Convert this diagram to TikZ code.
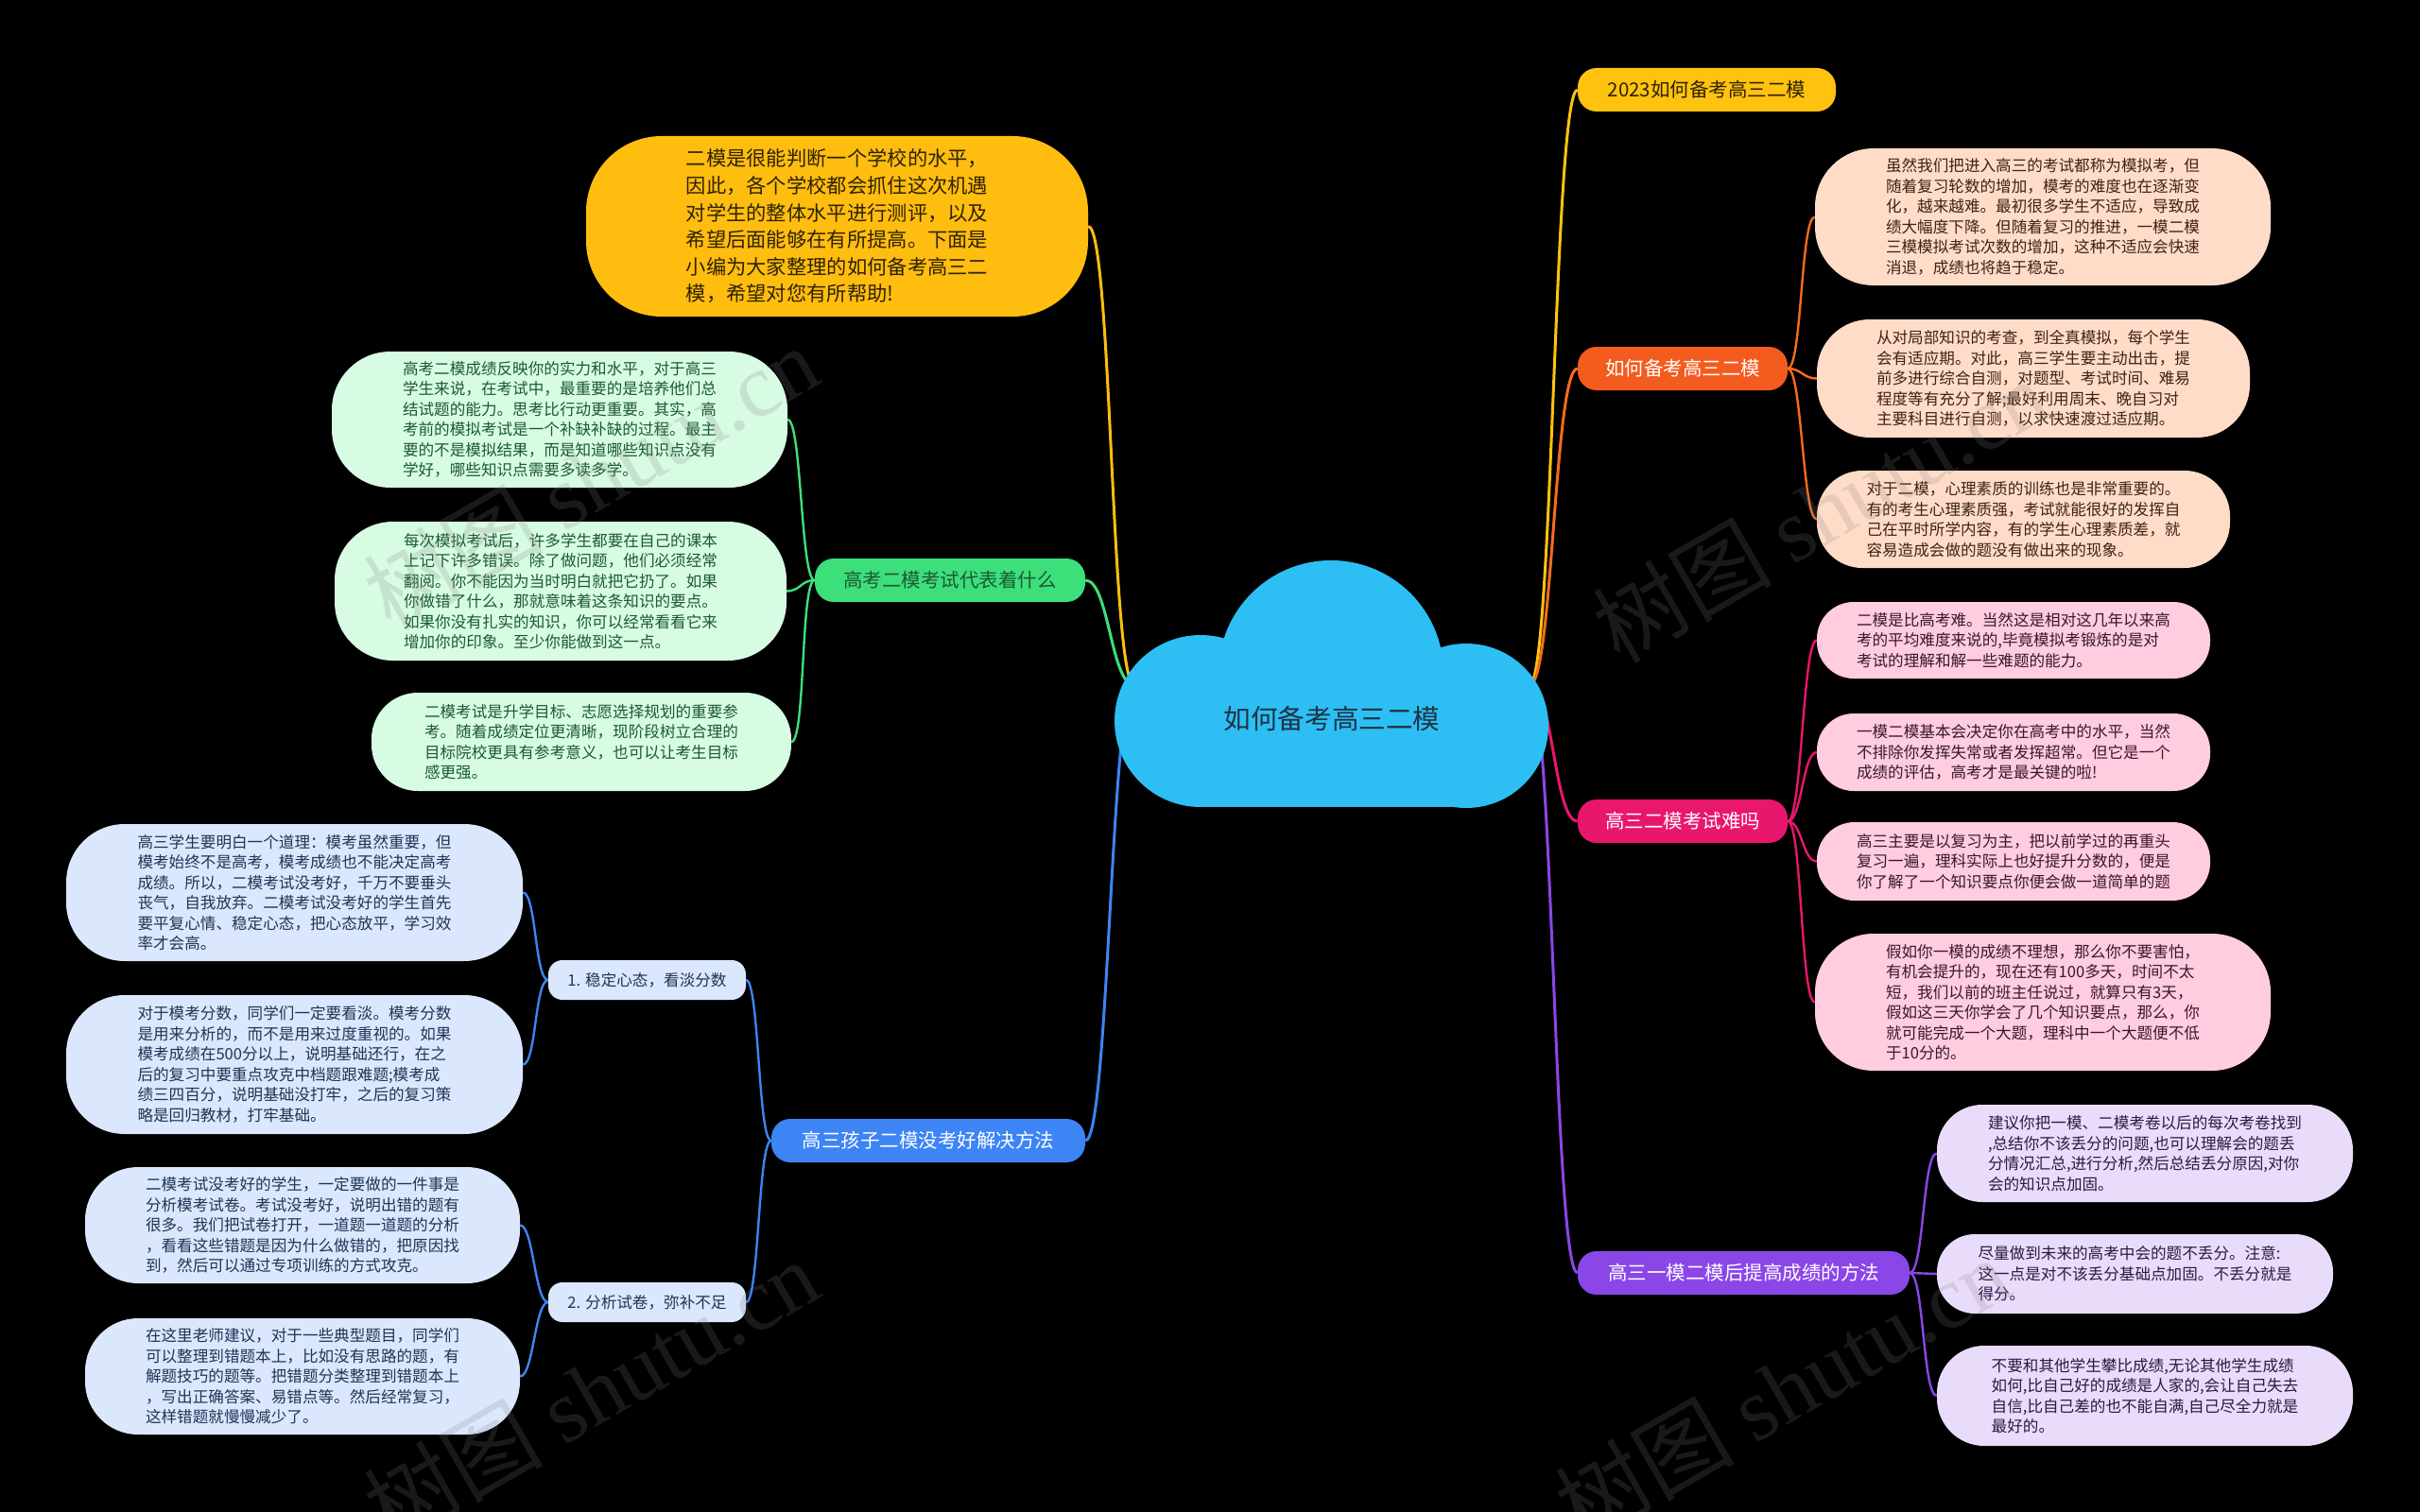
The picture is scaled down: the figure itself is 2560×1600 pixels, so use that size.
\documentclass[tikz,border=0pt]{standalone}
\usepackage{fontspec}
\setmainfont{Noto Sans CJK SC}
\newfontfamily\wmserif{Liberation Serif}
\pgfdeclarelayer{back}
\pgfdeclarelayer{lines}
\pgfsetlayers{back,lines,main}
\definecolor{cYel}{HTML}{FFC30F}
\definecolor{cYleaf}{HTML}{FFBD10}
\definecolor{cYelT}{HTML}{2E2200}
\definecolor{cOra}{HTML}{F45B1E}
\definecolor{cOraL}{HTML}{F76B1C}
\definecolor{cPeach}{HTML}{FFDCC8}
\definecolor{cPeachT}{HTML}{3B2316}
\definecolor{cPink}{HTML}{E9166D}
\definecolor{cPinkL}{HTML}{FFCCE0}
\definecolor{cPinkT}{HTML}{3A1828}
\definecolor{cPur}{HTML}{8B46E8}
\definecolor{cPurL}{HTML}{E8DCFA}
\definecolor{cPurT}{HTML}{2C1846}
\definecolor{cGrn}{HTML}{3DDF7A}
\definecolor{cGrnL}{HTML}{D8FBE3}
\definecolor{cGrnT}{HTML}{1C5A32}
\definecolor{cBlu}{HTML}{3D84F5}
\definecolor{cBluL}{HTML}{DBE7FC}
\definecolor{cBluT}{HTML}{1D3557}
\definecolor{cCloud}{HTML}{2DBFF3}
\definecolor{cCloudT}{HTML}{1E3347}
\begin{document}
\begin{tikzpicture}[x=1pt,y=-1pt,
  leaf/.style={align=left, inner sep=0pt, font=\fontsize{16.6}{21.5}\selectfont},
  leafY/.style={align=left, inner sep=0pt, fill=cYleaf, text=cYelT, font=\fontsize{21.3}{28.6}\selectfont},
  leafO/.style={leaf, fill=cPeach, text=cPeachT},
  leafP/.style={leaf, fill=cPinkL, text=cPinkT},
  leafU/.style={leaf, fill=cPurL, text=cPurT},
  leafG/.style={leaf, fill=cGrnL, text=cGrnT},
  leafB/.style={leaf, fill=cBluL, text=cBluT},
  mnode/.style={inner sep=0pt, rounded corners=20pt, minimum height=46pt, font=\fontsize{20.5}{24}\selectfont},
  subnode/.style={inner sep=0pt, rounded corners=15pt, minimum height=42pt, minimum width=209pt, fill=cBluL, text=cBluT, font=\fontsize{16.6}{20}\selectfont},
  mline/.style={line width=3pt},
  lline/.style={line width=2.4pt},
  wm/.style={text=gray, opacity=0.2, font=\fontsize{95}{105}\selectfont, inner sep=0pt}
]
\begin{pgfonlayer}{back}
\fill[black] (0,0) rectangle (2560,1600);
\end{pgfonlayer}
\useasboundingbox (0,0) rectangle (2560,1600);

% cloud
\fill[cCloud] (1408,712) circle[radius=119];
\fill[cCloud] (1270,763) circle[radius=91];
\fill[cCloud] (1551,768) circle[radius=87];
\fill[cCloud] (1270,718) rectangle (1551,854);
\node[text=cCloudT, font=\fontsize{28.6}{32}\selectfont, inner sep=0pt] (center) at (1409,761) {如何备考高三二模};
\coordinate (cl) at (1200,725);
\coordinate (cr) at (1618,725);

% right main nodes
\node[mnode, fill=cYel, text=cYelT, minimum width=273pt] (m1) at (1805.5,95) {2023如何备考高三二模};
\node[mnode, fill=cOra, text=white, minimum width=222pt] (m2) at (1780,390) {如何备考高三二模};
\node[mnode, fill=cPink, text=white, minimum width=222pt] (m3) at (1780,869) {高三二模考试难吗};
\node[mnode, fill=cPur, text=white, minimum width=351pt] (m4) at (1844.5,1347) {高三一模二模后提高成绩的方法};

% left main nodes
\node[mnode, fill=cGrn, text=cGrnT, minimum width=286pt] (mg) at (1005,614) {高考二模考试代表着什么};
\node[mnode, fill=cBlu, text=white, minimum width=332pt] (mb) at (982,1207) {高三孩子二模没考好解决方法};
\node[subnode] (s1) at (684.5,1037) {1. 稳定心态，看淡分数};
\node[subnode] (s2) at (684.5,1378) {2. 分析试卷，弥补不足};

% yellow leaf
\node[leafY, minimum width=531pt, minimum height=191pt, rounded corners=80pt] (y) at (885.5,239.5) {二模是很能判断一个学校的水平，\\因此，各个学校都会抓住这次机遇\\对学生的整体水平进行测评，以及\\希望后面能够在有所提高。下面是\\小编为大家整理的如何备考高三二\\模，希望对您有所帮助!};

% orange leaves
\node[leafO, minimum width=482pt, minimum height=145pt, rounded corners=62pt] (o1) at (2161,229.5) {虽然我们把进入高三的考试都称为模拟考，但\\随着复习轮数的增加，模考的难度也在逐渐变\\化，越来越难。最初很多学生不适应，导致成\\绩大幅度下降。但随着复习的推进，一模二模\\三模模拟考试次数的增加，这种不适应会快速\\消退，成绩也将趋于稳定。};
\node[leafO, minimum width=458pt, minimum height=125pt, rounded corners=56pt] (o2) at (2151,400.5) {从对局部知识的考查，到全真模拟，每个学生\\会有适应期。对此，高三学生要主动出击，提\\前多进行综合自测，对题型、考试时间、难易\\程度等有充分了解;最好利用周末、晚自习对\\主要科目进行自测，以求快速渡过适应期。};
\node[leafO, minimum width=437pt, minimum height=103pt, rounded corners=48pt] (o3) at (2140.5,549.5) {对于二模，心理素质的训练也是非常重要的。\\有的考生心理素质强，考试就能很好的发挥自\\己在平时所学内容，有的学生心理素质差，就\\容易造成会做的题没有做出来的现象。};

% pink leaves
\node[leafP, minimum width=416pt, minimum height=81pt, rounded corners=39pt] (p1) at (2130,677.5) {二模是比高考难。当然这是相对这几年以来高\\考的平均难度来说的,毕竟模拟考锻炼的是对\\考试的理解和解一些难题的能力。};
\node[leafP, minimum width=416pt, minimum height=82pt, rounded corners=39pt] (p2) at (2130,796) {一模二模基本会决定你在高考中的水平，当然\\不排除你发挥失常或者发挥超常。但它是一个\\成绩的评估，高考才是最关键的啦!};
\node[leafP, minimum width=416pt, minimum height=83pt, rounded corners=40pt] (p3) at (2130,911.5) {高三主要是以复习为主，把以前学过的再重头\\复习一遍，理科实际上也好提升分数的，便是\\你了解了一个知识要点你便会做一道简单的题};
\node[leafP, minimum width=482pt, minimum height=145pt, rounded corners=62pt] (p4) at (2161,1060.5) {假如你一模的成绩不理想，那么你不要害怕，\\有机会提升的，现在还有100多天，时间不太\\短，我们以前的班主任说过，就算只有3天，\\假如这三天你学会了几个知识要点，那么，你\\就可能完成一个大题，理科中一个大题便不低\\于10分的。};

% purple leaves
\node[leafU, minimum width=440pt, minimum height=103pt, rounded corners=48pt] (u1) at (2269,1220.5) {建议你把一模、二模考卷以后的每次考卷找到\\,总结你不该丢分的问题,也可以理解会的题丢\\分情况汇总,进行分析,然后总结丢分原因,对你\\会的知识点加固。};
\node[leafU, minimum width=419pt, minimum height=84pt, rounded corners=40pt] (u2) at (2258.5,1348) {尽量做到未来的高考中会的题不丢分。注意:\\这一点是对不该丢分基础点加固。不丢分就是\\得分。};
\node[leafU, minimum width=440pt, minimum height=106pt, rounded corners=50pt] (u3) at (2269,1477) {不要和其他学生攀比成绩,无论其他学生成绩\\如何,比自己好的成绩是人家的,会让自己失去\\自信,比自己差的也不能自满,自己尽全力就是\\最好的。};

% green leaves
\node[leafG, minimum width=482pt, minimum height=144pt, rounded corners=62pt] (g1) at (592,444) {高考二模成绩反映你的实力和水平，对于高三\\学生来说，在考试中，最重要的是培养他们总\\结试题的能力。思考比行动更重要。其实，高\\考前的模拟考试是一个补缺补缺的过程。最主\\要的不是模拟结果，而是知道哪些知识点没有\\学好，哪些知识点需要多读多学。};
\node[leafG, minimum width=478pt, minimum height=147pt, rounded corners=62pt] (g2) at (593,625.5) {每次模拟考试后，许多学生都要在自己的课本\\上记下许多错误。除了做问题，他们必须经常\\翻阅。你不能因为当时明白就把它扔了。如果\\你做错了什么，那就意味着这条知识的要点。\\如果你没有扎实的知识，你可以经常看看它来\\增加你的印象。至少你能做到这一点。};
\node[leafG, minimum width=444pt, minimum height=104pt, rounded corners=49pt] (g3) at (615,785) {二模考试是升学目标、志愿选择规划的重要参\\考。随着成绩定位更清晰，现阶段树立合理的\\目标院校更具有参考意义，也可以让考生目标\\感更强。};

% blue leaves
\node[leafB, minimum width=483pt, minimum height=145pt, rounded corners=62pt] (b1) at (311.5,944.5) {高三学生要明白一个道理：模考虽然重要，但\\模考始终不是高考，模考成绩也不能决定高考\\成绩。所以，二模考试没考好，千万不要垂头\\丧气，自我放弃。二模考试没考好的学生首先\\要平复心情、稳定心态，把心态放平，学习效\\率才会高。};
\node[leafB, minimum width=483pt, minimum height=147pt, rounded corners=62pt] (b2) at (311.5,1126.5) {对于模考分数，同学们一定要看淡。模考分数\\是用来分析的，而不是用来过度重视的。如果\\模考成绩在500分以上，说明基础还行，在之\\后的复习中要重点攻克中档题跟难题;模考成\\绩三四百分，说明基础没打牢，之后的复习策\\略是回归教材，打牢基础。};
\node[leafB, minimum width=460pt, minimum height=123pt, rounded corners=56pt] (b3) at (320,1296.5) {二模考试没考好的学生，一定要做的一件事是\\分析模考试卷。考试没考好，说明出错的题有\\很多。我们把试卷打开，一道题一道题的分析\\，看看这些错题是因为什么做错的，把原因找\\到，然后可以通过专项训练的方式攻克。};
\node[leafB, minimum width=460pt, minimum height=123pt, rounded corners=56pt] (b4) at (320,1456.5) {在这里老师建议，对于一些典型题目，同学们\\可以整理到错题本上，比如没有思路的题，有\\解题技巧的题等。把错题分类整理到错题本上\\，写出正确答案、易错点等。然后经常复习，\\这样错题就慢慢减少了。};

% connectors
\begin{pgfonlayer}{lines}
\draw[mline, cYel] (cr) .. controls +(25,0) and +(-25,0) .. (m1.west);
\draw[mline, cOraL] (cr) .. controls +(25,0) and +(-25,0) .. (m2.west);
\draw[mline, cPink] (cr) .. controls +(25,0) and +(-25,0) .. (m3.west);
\draw[mline, cPur] (cr) .. controls +(25,0) and +(-25,0) .. (m4.west);
\draw[mline, cYleaf] (cl) .. controls +(-25,0) and +(25,0) .. (y.east);
\draw[mline, cGrn] (cl) .. controls +(-25,0) and +(25,0) .. (mg.east);
\draw[mline, cBlu] (cl) .. controls +(-25,0) and +(25,0) .. (mb.east);
\foreach \t in {o1,o2,o3}
  \draw[lline, cOraL] (m2.east) .. controls +(15,0) and +(-15,0) .. (\t.west);
\foreach \t in {p1,p2,p3,p4}
  \draw[lline, cPink] (m3.east) .. controls +(15,0) and +(-15,0) .. (\t.west);
\foreach \t in {u1,u2,u3}
  \draw[lline, cPur] (m4.east) .. controls +(15,0) and +(-15,0) .. (\t.west);
\foreach \t in {g1,g2,g3}
  \draw[lline, cGrn] (mg.west) .. controls +(-15,0) and +(15,0) .. (\t.east);
\foreach \t in {s1,s2}
  \draw[lline, cBlu] (mb.west) .. controls +(-14,0) and +(14,0) .. (\t.east);
\foreach \t in {b1,b2}
  \draw[lline, cBlu] (s1.west) .. controls +(-14,0) and +(14,0) .. (\t.east);
\foreach \t in {b3,b4}
  \draw[lline, cBlu] (s2.west) .. controls +(-14,0) and +(14,0) .. (\t.east);
\end{pgfonlayer}

% watermarks
\node[wm, rotate=30] (w1) at (625,505) {树图 {\wmserif shutu.cn}};
\node[wm, rotate=30] (w2) at (1925,540) {树图 {\wmserif shutu.cn}};
\node[wm, rotate=30] (w3) at (625,1472) {树图 {\wmserif shutu.cn}};
\node[wm, rotate=30] (w4) at (1885,1470) {树图 {\wmserif shutu.cn}};
\end{tikzpicture}
\end{document}
